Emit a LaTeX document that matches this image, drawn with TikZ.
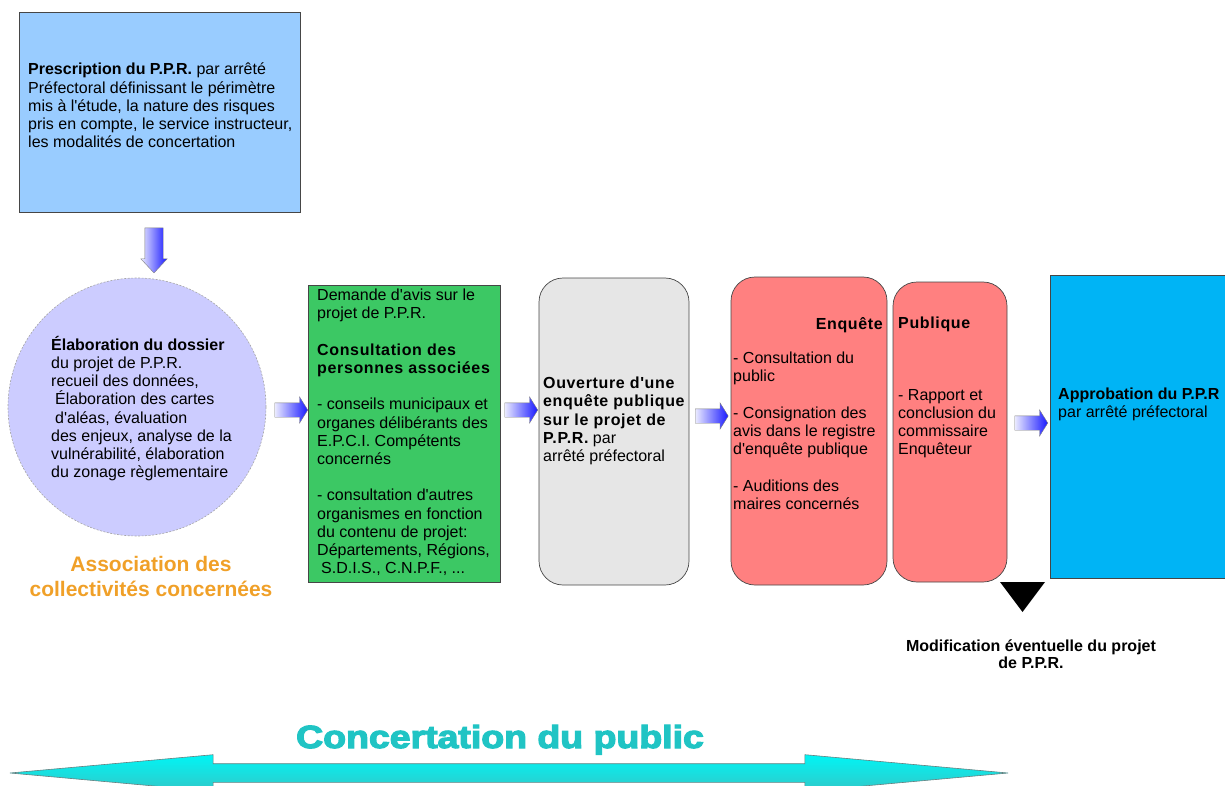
\documentclass[tikz,border=0pt]{standalone}
\usepackage{fontspec}
\setmainfont{Liberation Sans}[Ligatures=TeXOff]
\newfontfamily\spacedfont{Liberation Sans}[Ligatures=TeXOff,LetterSpace=4]
\newfontfamily\heavyfont{Liberation Sans Bold}[Ligatures=TeXOff,FakeBold=3.5]
\usetikzlibrary{shapes.arrows,positioning}

\definecolor{prescblue}{RGB}{153,204,255}
\definecolor{dossierlilac}{RGB}{204,204,255}
\definecolor{avisgreen}{RGB}{60,200,100}
\definecolor{ouvgray}{RGB}{230,230,230}
\definecolor{enqpink}{RGB}{255,128,128}
\definecolor{approcyan}{RGB}{0,180,245}
\definecolor{assocorange}{RGB}{240,160,40}
\definecolor{concteal}{RGB}{32,196,196}
\definecolor{edgegray}{RGB}{70,70,70}

\newcommand{\hb}[1]{{\spacedfont\bfseries #1}}

\begin{document}
\begin{tikzpicture}[x=1pt,y=-1pt,
  every node/.style={font=\fontsize{16}{18.2}\selectfont},
  box/.style={draw=edgegray,line width=0.7pt,inner sep=0pt},
  roundbox/.style={box,rounded corners=24pt},
  txt/.style={inner sep=0pt,align=left,anchor=north west},
  blockarrow/.style={single arrow,draw=gray,line width=0.4pt,
    left color=blue!8,right color=blue!90,
    inner xsep=0pt,inner ysep=7pt,single arrow head extend=6pt,
    single arrow tip angle=116,minimum height=33pt},
  downarrow/.style={blockarrow,inner xsep=9pt,inner ysep=0pt,single arrow head extend=4pt,
    single arrow tip angle=86,minimum height=45pt,shape border rotate=270}]
\useasboundingbox (0,0) rectangle (1225,786);

% boxes
\node[box,fill=prescblue,minimum width=281pt,minimum height=200pt] (prescription) at (159.5,112) {};
\node[circle,draw=gray!70,line width=0.6pt,dash pattern=on 2pt off 1.5pt,
  fill=dossierlilac,minimum size=258pt] (elaboration) at (137,407) {};
\node[box,fill=avisgreen,minimum width=192pt,minimum height=297pt] (consultation) at (404,433.5) {};
\node[roundbox,fill=ouvgray,minimum width=150pt,minimum height=307pt] (ouverture) at (614,431.5) {};
\node[roundbox,fill=enqpink,minimum width=156pt,minimum height=308pt] (enquete) at (809,431) {};
\node[roundbox,fill=enqpink,minimum width=114pt,minimum height=300pt] (rapport) at (950,432) {};
\node[box,fill=approcyan,minimum width=190pt,minimum height=303pt] (approbation) at (1145,426.5) {};

% texts
\node[txt] (prescriptiontxt) at (28,63) {\textbf{Prescription du P.P.R.} par arrêté\\
  Préfectoral définissant le périmètre\\mis à l'étude, la nature des risques\\
  pris en compte, le service instructeur,\\les modalités de concertation};
\node[txt] (elaborationtxt) at (51,336) {\textbf{Élaboration du dossier}\\du projet de P.P.R.\\
  recueil des données,\\\hspace*{4pt}Élaboration des cartes\\\hspace*{4pt}d'aléas, évaluation\\
  des enjeux, analyse de la\\vulnérabilité, élaboration\\du zonage règlementaire};
\node[txt] (consultationtxt) at (317,289) {Demande d'avis sur le\\projet de P.P.R.\\[18.2pt]
  \hb{Consultation des}\\\hb{personnes associées}\\[18.2pt]
  - conseils municipaux et\\organes délibérants des\\E.P.C.I. Compétents\\concernés\\[18.2pt]
  - consultation d'autres\\organismes en fonction\\du contenu de projet:\\
  Départements, Régions,\\\hspace*{4pt}S.D.I.S., C.N.P.F., ...};
\node[txt] (ouverturetxt) at (543,377) {\hb{Ouverture d'une}\\\hb{enquête publique}\\
  \hb{sur le projet de}\\\hb{P.P.R.} par\\arrêté préfectoral};
\node[txt,anchor=north east] (enquetetitle) at (883,317) {\hb{Enquête}};
\node[txt] (enquetetxt) at (733,352) {- Consultation du\\public\\[18.2pt]
  - Consignation des\\avis dans le registre\\d'enquête publique\\[18.2pt]
  - Auditions des\\maires concernés};
\node[txt] (rapporttitle) at (898,317) {\hb{Publique}};
\node[txt] (rapporttxt) at (898,389) {- Rapport et\\conclusion du\\commissaire\\Enquêteur};
\node[txt] (approbationtxt) at (1058,388) {\textbf{Approbation du P.P.R}\\par arrêté préfectoral};

\node[inner sep=0pt,align=center,text=assocorange,font=\fontsize{21}{25}\selectfont\bfseries]
  (association) at (151,576) {Association des\\collectivités concernées};
\node[inner sep=0pt,align=center,font=\fontsize{16}{17.5}\selectfont\bfseries]
  (modification) at (1031,654) {Modification éventuelle du projet\\de P.P.R.};

% arrows
\node[downarrow] (fleche0) at (154,245.5) {};
\node[blockarrow] (fleche1) at (289,410) {};
\node[blockarrow] (fleche2) at (519,410) {};
\node[blockarrow] (fleche3) at (709.5,416) {};
\node[blockarrow] (fleche4) at (1029,423) {};

\coordinate (modif) at (1022.5,582);
\fill (modif) +(-22.5,0) -- +(22.5,0) -- +(0,30) -- cycle;

% concertation
\node[double arrow,draw=gray!80!teal,line width=0.6pt,
  top color={rgb,255:red,0;green,245;blue,245},bottom color={rgb,255:red,50;green,200;blue,200},
  inner xsep=0pt,inner ysep=9pt,double arrow head extend=9pt,
  double arrow tip angle=10.3,minimum height=998pt] (concertarrow) at (509,773) {};
\node[inner sep=0pt,anchor=base,text=concteal] (concertation) at (500,748)
  {\scalebox{1.17}[1]{\fontsize{32}{36}\heavyfont Concertation du public}};
\end{tikzpicture}
\end{document}
